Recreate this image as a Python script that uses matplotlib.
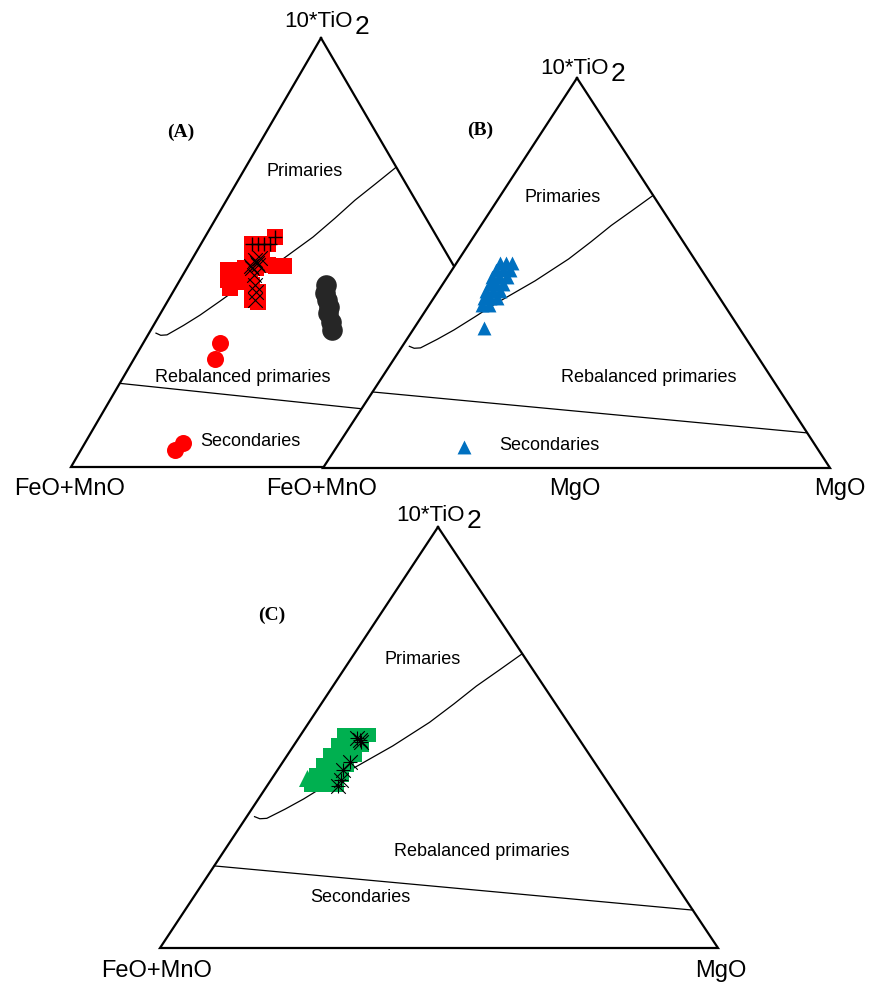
import numpy as np
import matplotlib.pyplot as plt

plt.rcParams['font.family'] = ['Liberation Sans', 'DejaVu Sans']

# ternary compositions as (10*TiO2, MgO) fractions, FeO+MnO = 1 - the two
# field boundaries shared by all three diagrams
curve_t = [0.312, 0.307, 0.308, 0.330, 0.354, 0.387, 0.420, 0.450, 0.480, 0.536, 0.580, 0.622, 0.660, 0.699]
curve_m = [0.014, 0.026, 0.038, 0.060, 0.081, 0.105, 0.128, 0.153, 0.178, 0.216, 0.238, 0.257, 0.279, 0.301]
lower_t = [0.195, 0.090]
lower_m = [0.000, 0.910]

# (A) red squares
a_sq_t = [0.536, 0.520, 0.520, 0.520, 0.501, 0.501, 0.483, 0.478, 0.471, 0.469, 0.469, 0.464,
          0.459, 0.459, 0.436, 0.431, 0.417, 0.448, 0.424, 0.408, 0.389, 0.385, 0.494, 0.464]
a_sq_m = [0.140, 0.102, 0.118, 0.134, 0.117, 0.131, 0.121, 0.139, 0.158, 0.176, 0.192, 0.116,
          0.084, 0.100, 0.096, 0.116, 0.109, 0.134, 0.150, 0.170, 0.167, 0.181, 0.135, 0.138]
# (A) crosses and plus signs on top of the squares
a_x_t = [0.483, 0.471, 0.464, 0.487, 0.448, 0.424, 0.389, 0.408, 0.476, 0.468]
a_x_m = [0.127, 0.138, 0.130, 0.134, 0.142, 0.156, 0.173, 0.166, 0.133, 0.126]
a_p_t = [0.536, 0.520, 0.520, 0.520, 0.520]
a_p_m = [0.140, 0.102, 0.114, 0.126, 0.138]
# (A) dark circles
a_dk_t = [0.424, 0.406, 0.389, 0.373, 0.359, 0.338, 0.319]
a_dk_m = [0.298, 0.305, 0.317, 0.330, 0.334, 0.351, 0.362]
# (A) red circles
a_rc_t = [0.289, 0.252, 0.056, 0.040]
a_rc_m = [0.153, 0.162, 0.196, 0.188]

# (B) blue triangles
b_tr_t = [0.526, 0.526, 0.526, 0.508, 0.508, 0.508, 0.490, 0.490, 0.490, 0.472, 0.472, 0.472,
          0.454, 0.454, 0.454, 0.436, 0.436, 0.436, 0.418, 0.418, 0.359, 0.054]
b_tr_m = [0.086, 0.098, 0.110, 0.087, 0.101, 0.115, 0.088, 0.102, 0.118, 0.092, 0.105, 0.119,
          0.094, 0.108, 0.122, 0.100, 0.111, 0.125, 0.105, 0.118, 0.138, 0.251]

# (C) green squares and triangle
c_sq_t = [0.506, 0.506, 0.506, 0.506, 0.482, 0.482, 0.482, 0.482, 0.458, 0.458, 0.458, 0.458,
          0.435, 0.435, 0.435, 0.435, 0.411, 0.411, 0.411, 0.411, 0.387, 0.387, 0.387, 0.387]
c_sq_m = [0.078, 0.093, 0.107, 0.122, 0.078, 0.092, 0.107, 0.121, 0.077, 0.092, 0.106, 0.122,
          0.075, 0.089, 0.103, 0.119, 0.074, 0.088, 0.103, 0.121, 0.077, 0.091, 0.108, 0.125]
c_tr_t = [0.404]
c_tr_m = [0.062]
# (C) black stars
c_x_t = [0.499, 0.489, 0.495, 0.442, 0.423, 0.399, 0.385]
c_x_m = [0.105, 0.117, 0.112, 0.120, 0.118, 0.125, 0.127]

# corner positions (apex, left, right) of each triangle on the page, in pixels
tri_a = [(321, 38), (71, 467), (571, 467)]
tri_b = [(577, 78), (323, 468), (830, 468)]
tri_c = [(438, 527), (160, 948), (718, 948)]


def to_xy(tri, t, m):
    t = np.asarray(t, float)
    m = np.asarray(m, float)
    f = 1 - t - m
    (tx, ty), (lx, ly), (rx, ry) = tri
    return t * tx + f * lx + m * rx, t * ty + f * ly + m * ry


def draw_frame(ax, tri, z):
    pts = np.array(tri + [tri[0]])
    ax.fill(pts[:, 0], pts[:, 1], color='white', zorder=z)
    ax.plot(pts[:, 0], pts[:, 1], color='black', lw=1.6, zorder=z + 2, solid_joinstyle='miter')
    x, y = to_xy(tri, curve_t, curve_m)
    ax.plot(x, y, color='black', lw=0.9, zorder=z + 1)
    x, y = to_xy(tri, lower_t, lower_m)
    ax.plot(x, y, color='black', lw=0.9, zorder=z + 1)


def tio2_label(ax, x, y):
    ax.text(x, y, '10*TiO', fontsize=16, ha='right', va='baseline', zorder=20)
    ax.text(x + 2, y + 7, '2', fontsize=19, ha='left', va='baseline', zorder=20)


def field_labels(ax, prim, rebal, sec, z):
    for (x, y), s in [(prim, 'Primaries'), (rebal, 'Rebalanced primaries'), (sec, 'Secondaries')]:
        ax.text(x, y, s, fontsize=13, ha='center', va='center', zorder=z)


def panel_tag(ax, x, y, s, z):
    ax.text(x, y, s, fontsize=14, fontweight='bold', family='Liberation Serif',
            ha='center', va='center', zorder=z)


fig = plt.figure(figsize=(8.76, 9.84), dpi=100)
ax = fig.add_axes([0, 0, 1, 1])
ax.set_xlim(0, 876)
ax.set_ylim(984, 0)
ax.axis('off')

# (A)
draw_frame(ax, tri_a, 1)
x, y = to_xy(tri_a, a_sq_t, a_sq_m)
ax.scatter(x, y, marker='s', s=130, color='#ff0000', lw=0, zorder=4)
x, y = to_xy(tri_a, a_dk_t, a_dk_m)
ax.scatter(x, y, marker='o', s=220, color='#262626', lw=0, zorder=4)
x, y = to_xy(tri_a, a_rc_t, a_rc_m)
ax.scatter(x, y, marker='o', s=150, color='#ff0000', lw=0, zorder=4)
x, y = to_xy(tri_a, a_x_t, a_x_m)
ax.scatter(x, y, marker='x', s=110, color='black', lw=0.8, zorder=4.5)
x, y = to_xy(tri_a, a_p_t, a_p_m)
ax.scatter(x, y, marker='+', s=110, color='black', lw=1.0, zorder=4.5)
field_labels(ax, (305, 172), (243, 378), (250, 442), 4)
panel_tag(ax, 181, 132, '(A)', 4)

# (B), drawn over the right corner of (A)
draw_frame(ax, tri_b, 5)
x, y = to_xy(tri_b, b_tr_t, b_tr_m)
ax.scatter(x, y, marker='^', s=100, color='#0070c0', lw=0, zorder=8)
field_labels(ax, (563, 198), (649, 378), (549, 445), 8)
panel_tag(ax, 480, 130, '(B)', 8)

# (C)
draw_frame(ax, tri_c, 10)
x, y = to_xy(tri_c, c_sq_t, c_sq_m)
ax.scatter(x, y, marker='s', s=110, color='#00b050', lw=0, zorder=13)
x, y = to_xy(tri_c, c_tr_t, c_tr_m)
ax.scatter(x, y, marker='^', s=150, color='#00b050', lw=0, zorder=13)
x, y = to_xy(tri_c, c_x_t, c_x_m)
ax.scatter(x, y, marker='x', s=110, color='black', lw=0.8, zorder=14)
ax.scatter(x, y, marker='+', s=110, color='black', lw=0.8, zorder=14)
field_labels(ax, (423, 660), (482, 852), (360, 898), 14)
panel_tag(ax, 272, 615, '(C)', 14)

# corner labels
for lx, ly, s in [(70, 495, 'FeO+MnO'), (322, 495, 'FeO+MnO'), (575, 495, 'MgO'),
                  (840, 495, 'MgO'), (157, 977, 'FeO+MnO'), (721, 977, 'MgO')]:
    ax.text(lx, ly, s, fontsize=17, ha='center', va='baseline', zorder=20)
tio2_label(ax, 353, 27)
tio2_label(ax, 609, 74)
tio2_label(ax, 465, 521)

fig.savefig('out.png', dpi=100)
